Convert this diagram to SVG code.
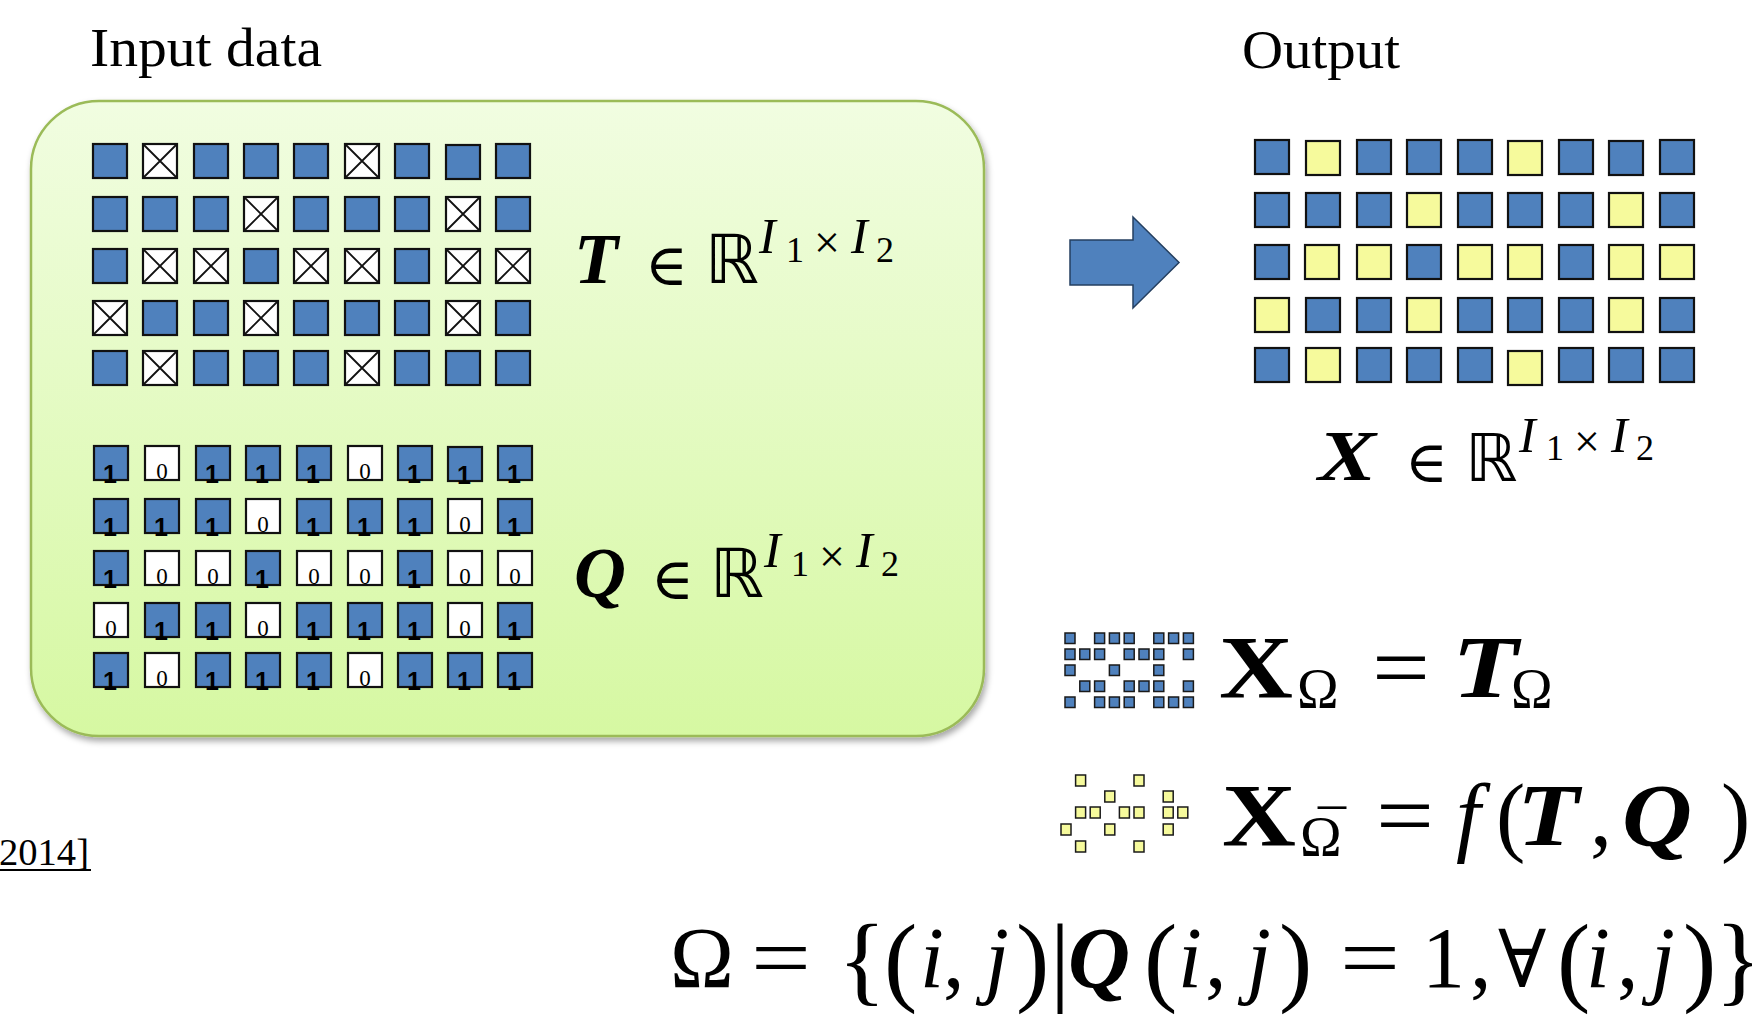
<svg xmlns="http://www.w3.org/2000/svg" width="1752" height="1028" viewBox="0 0 1752 1028">
<style>
.lbl{font-family:"Liberation Serif",serif;font-size:54px;fill:#000}
.m{font-family:"Liberation Serif",serif;fill:#000}
.bi{font-weight:700;font-style:italic}
.bf{font-weight:700}
.it{font-style:italic}
.rm{font-weight:400;font-style:normal}
.ds{font-family:"DejaVu Sans",sans-serif}
.dsf{font-family:"DejaVu Serif",serif}
.s72{font-size:72px}.s50{font-size:50px}.s36{font-size:36px}.s88{font-size:88px}.s56{font-size:56px}.s100{font-size:100px}.s86{font-size:86px}
.cb{fill:#4F81BD;stroke:#111;stroke-width:2.2}
.cw{fill:#fff;stroke:#111;stroke-width:2.2}
.cy{fill:#F6FA9C;stroke:#111;stroke-width:2.2}
.xl{stroke:#111;stroke-width:1.8;fill:none}
.one{font-family:"Liberation Sans",sans-serif;font-weight:700;font-size:25px;text-anchor:middle;fill:#000}
.zero{font-family:"Liberation Serif",serif;font-size:23px;text-anchor:middle;fill:#000}
.ib{fill:#4F81BD;stroke:#1a1a1a;stroke-width:1.5}
.iy{fill:#F6FA9C;stroke:#1a1a1a;stroke-width:1.5}
</style>
<defs>
<linearGradient id="gbox" x1="0" y1="0" x2="0" y2="1">
<stop offset="0" stop-color="#F1FDE1"/>
<stop offset="1" stop-color="#D6F8A2"/>
</linearGradient>
<filter id="sh" x="-5%" y="-5%" width="110%" height="112%">
<feDropShadow dx="2" dy="4" stdDeviation="3" flood-color="#000" flood-opacity="0.35"/>
</filter>
<rect id="B" x="1" y="1" width="34" height="34" class="cb"/>
<rect id="W" x="1" y="1" width="34" height="34" class="cw"/>
<rect id="Y" x="1" y="1" width="34" height="34" class="cy"/>
<g id="X"><rect x="1" y="1" width="34" height="34" class="cw"/><path d="M1.5 1.5L34.5 34.5M34.5 1.5L1.5 34.5" class="xl"/></g>
</defs>
<rect width="1752" height="1028" fill="#fff"/>

<g id="input-label"><text class="lbl" x="90" y="66" textLength="232" lengthAdjust="spacingAndGlyphs">Input data</text></g>
<g id="output-label"><text class="lbl" x="1242" y="68" textLength="158" lengthAdjust="spacingAndGlyphs">Output</text></g>

<g id="input-box">
<rect x="31" y="101" width="953" height="635" rx="68" fill="url(#gbox)" stroke="#9BBB59" stroke-width="2.5" filter="url(#sh)"/>
</g>

<g id="T-grid">
<use href="#B" x="92" y="143"/><use href="#X" x="142" y="143"/><use href="#B" x="193" y="143"/><use href="#B" x="243" y="143"/><use href="#B" x="293" y="143"/><use href="#X" x="344" y="143"/><use href="#B" x="394" y="143"/><use href="#B" x="445" y="144"/><use href="#B" x="495" y="143"/>
<use href="#B" x="92" y="196"/><use href="#B" x="142" y="196"/><use href="#B" x="193" y="196"/><use href="#X" x="243" y="196"/><use href="#B" x="293" y="196"/><use href="#B" x="344" y="196"/><use href="#B" x="394" y="196"/><use href="#X" x="445" y="196"/><use href="#B" x="495" y="196"/>
<use href="#B" x="92" y="248"/><use href="#X" x="142" y="248"/><use href="#X" x="193" y="248"/><use href="#B" x="243" y="248"/><use href="#X" x="293" y="248"/><use href="#X" x="344" y="248"/><use href="#B" x="394" y="248"/><use href="#X" x="445" y="248"/><use href="#X" x="495" y="248"/>
<use href="#X" x="92" y="300"/><use href="#B" x="142" y="300"/><use href="#B" x="193" y="300"/><use href="#X" x="243" y="300"/><use href="#B" x="293" y="300"/><use href="#B" x="344" y="300"/><use href="#B" x="394" y="300"/><use href="#X" x="445" y="300"/><use href="#B" x="495" y="300"/>
<use href="#B" x="92" y="350"/><use href="#X" x="142" y="350"/><use href="#B" x="193" y="350"/><use href="#B" x="243" y="350"/><use href="#B" x="293" y="350"/><use href="#X" x="344" y="350"/><use href="#B" x="394" y="350"/><use href="#B" x="445" y="350"/><use href="#B" x="495" y="350"/>
</g>

<g id="T-label">
<text class="m s72"><tspan class="bi" x="574" y="283">T</tspan><tspan class="dsf rm" font-size="58" x="645" y="285">∈</tspan><tspan class="ds rm" font-size="68" x="705" y="283">ℝ</tspan><tspan class="it s50" x="759" y="253">I</tspan><tspan class="rm s36" x="786" y="262">1</tspan><tspan class="rm" font-size="46" x="814" y="258">×</tspan><tspan class="it s50" x="851" y="253">I</tspan><tspan class="rm s36" x="876" y="262">2</tspan></text>
</g>

<g id="Q-grid">
<use href="#B" x="93" y="445"/><use href="#W" x="144" y="445"/><use href="#B" x="195" y="445"/><use href="#B" x="245" y="445"/><use href="#B" x="296" y="445"/><use href="#W" x="347" y="445"/><use href="#B" x="397" y="445"/><use href="#B" x="447" y="446"/><use href="#B" x="497" y="445"/>
<use href="#B" x="93" y="498"/><use href="#B" x="144" y="498"/><use href="#B" x="195" y="498"/><use href="#W" x="245" y="498"/><use href="#B" x="296" y="498"/><use href="#B" x="347" y="498"/><use href="#B" x="397" y="498"/><use href="#W" x="447" y="498"/><use href="#B" x="497" y="498"/>
<use href="#B" x="93" y="550"/><use href="#W" x="144" y="550"/><use href="#W" x="195" y="550"/><use href="#B" x="245" y="550"/><use href="#W" x="296" y="550"/><use href="#W" x="347" y="550"/><use href="#B" x="397" y="550"/><use href="#W" x="447" y="550"/><use href="#W" x="497" y="550"/>
<use href="#W" x="93" y="602"/><use href="#B" x="144" y="602"/><use href="#B" x="195" y="602"/><use href="#W" x="245" y="602"/><use href="#B" x="296" y="602"/><use href="#B" x="347" y="602"/><use href="#B" x="397" y="602"/><use href="#W" x="447" y="602"/><use href="#B" x="497" y="602"/>
<use href="#B" x="93" y="652"/><use href="#W" x="144" y="652"/><use href="#B" x="195" y="652"/><use href="#B" x="245" y="652"/><use href="#B" x="296" y="652"/><use href="#W" x="347" y="652"/><use href="#B" x="397" y="652"/><use href="#B" x="447" y="652"/><use href="#B" x="497" y="652"/>
<text class="one" x="110" y="483">1</text><text class="zero" x="162" y="479">0</text><text class="one" x="212" y="483">1</text><text class="one" x="262" y="483">1</text><text class="one" x="313" y="483">1</text><text class="zero" x="365" y="479">0</text><text class="one" x="414" y="483">1</text><text class="one" x="464" y="484">1</text><text class="one" x="514" y="483">1</text>
<text class="one" x="110" y="536">1</text><text class="one" x="161" y="536">1</text><text class="one" x="212" y="536">1</text><text class="zero" x="263" y="532">0</text><text class="one" x="313" y="536">1</text><text class="one" x="364" y="536">1</text><text class="one" x="414" y="536">1</text><text class="zero" x="465" y="532">0</text><text class="one" x="514" y="536">1</text>
<text class="one" x="110" y="588">1</text><text class="zero" x="162" y="584">0</text><text class="zero" x="213" y="584">0</text><text class="one" x="262" y="588">1</text><text class="zero" x="314" y="584">0</text><text class="zero" x="365" y="584">0</text><text class="one" x="414" y="588">1</text><text class="zero" x="465" y="584">0</text><text class="zero" x="515" y="584">0</text>
<text class="zero" x="111" y="636">0</text><text class="one" x="161" y="640">1</text><text class="one" x="212" y="640">1</text><text class="zero" x="263" y="636">0</text><text class="one" x="313" y="640">1</text><text class="one" x="364" y="640">1</text><text class="one" x="414" y="640">1</text><text class="zero" x="465" y="636">0</text><text class="one" x="514" y="640">1</text>
<text class="one" x="110" y="690">1</text><text class="zero" x="162" y="686">0</text><text class="one" x="212" y="690">1</text><text class="one" x="262" y="690">1</text><text class="one" x="313" y="690">1</text><text class="zero" x="365" y="686">0</text><text class="one" x="414" y="690">1</text><text class="one" x="464" y="690">1</text><text class="one" x="514" y="690">1</text>
</g>

<g id="Q-label">
<text class="m s72"><tspan class="bi" x="574" y="597">Q</tspan><tspan class="dsf rm" font-size="58" x="651" y="599">∈</tspan><tspan class="ds rm" font-size="68" x="710" y="597">ℝ</tspan><tspan class="it s50" x="764" y="567">I</tspan><tspan class="rm s36" x="791" y="576">1</tspan><tspan class="rm" font-size="46" x="819" y="572">×</tspan><tspan class="it s50" x="856" y="567">I</tspan><tspan class="rm s36" x="881" y="576">2</tspan></text>
</g>

<g id="connectors">
<polygon points="1070,240 1133,240 1133,217 1179,262.5 1133,308 1133,285 1070,285" fill="#4F81BD" stroke="#243F60" stroke-width="1.5"/>
</g>

<g id="output-grid">
<use href="#B" x="1254" y="139"/><use href="#Y" x="1305" y="140"/><use href="#B" x="1356" y="139"/><use href="#B" x="1406" y="139"/><use href="#B" x="1457" y="139"/><use href="#Y" x="1507" y="140"/><use href="#B" x="1558" y="139"/><use href="#B" x="1608" y="140"/><use href="#B" x="1659" y="139"/>
<use href="#B" x="1254" y="192"/><use href="#B" x="1305" y="192"/><use href="#B" x="1356" y="192"/><use href="#Y" x="1406" y="192"/><use href="#B" x="1457" y="192"/><use href="#B" x="1507" y="192"/><use href="#B" x="1558" y="192"/><use href="#Y" x="1608" y="192"/><use href="#B" x="1659" y="192"/>
<use href="#B" x="1254" y="244"/><use href="#Y" x="1304" y="244"/><use href="#Y" x="1356" y="244"/><use href="#B" x="1406" y="244"/><use href="#Y" x="1457" y="244"/><use href="#Y" x="1507" y="244"/><use href="#B" x="1558" y="244"/><use href="#Y" x="1608" y="244"/><use href="#Y" x="1659" y="244"/>
<use href="#Y" x="1254" y="297"/><use href="#B" x="1305" y="297"/><use href="#B" x="1356" y="297"/><use href="#Y" x="1406" y="297"/><use href="#B" x="1457" y="297"/><use href="#B" x="1507" y="297"/><use href="#B" x="1558" y="297"/><use href="#Y" x="1608" y="297"/><use href="#B" x="1659" y="297"/>
<use href="#B" x="1254" y="347"/><use href="#Y" x="1305" y="347"/><use href="#B" x="1356" y="347"/><use href="#B" x="1406" y="347"/><use href="#B" x="1457" y="347"/><use href="#Y" x="1507" y="350"/><use href="#B" x="1558" y="347"/><use href="#B" x="1608" y="347"/><use href="#B" x="1659" y="347"/>
</g>

<g id="X-label">
<text class="m s72"><tspan class="bi" x="1318" y="480" textLength="58" lengthAdjust="spacingAndGlyphs">X</tspan><tspan class="dsf rm" font-size="58" x="1405" y="482">∈</tspan><tspan class="ds rm" font-size="66" x="1465" y="481">ℝ</tspan><tspan class="it s50" x="1519" y="452">I</tspan><tspan class="rm s36" x="1546" y="460">1</tspan><tspan class="rm" font-size="46" x="1574" y="457">×</tspan><tspan class="it s50" x="1611" y="452">I</tspan><tspan class="rm s36" x="1636" y="460">2</tspan></text>
</g>

<g id="observed-icon">
<rect class="ib" x="1065" y="633" width="10" height="10.5"/><rect class="ib" x="1094.6" y="633" width="10" height="10.5"/><rect class="ib" x="1109.4" y="633" width="10" height="10.5"/><rect class="ib" x="1124.2" y="633" width="10" height="10.5"/><rect class="ib" x="1153.8" y="633" width="10" height="10.5"/><rect class="ib" x="1168.6" y="633" width="10" height="10.5"/><rect class="ib" x="1183.4" y="633" width="10" height="10.5"/>
<rect class="ib" x="1065" y="649" width="10" height="10.5"/><rect class="ib" x="1079.8" y="649" width="10" height="10.5"/><rect class="ib" x="1094.6" y="649" width="10" height="10.5"/><rect class="ib" x="1124.2" y="649" width="10" height="10.5"/><rect class="ib" x="1139" y="649" width="10" height="10.5"/><rect class="ib" x="1153.8" y="649" width="10" height="10.5"/><rect class="ib" x="1183.4" y="649" width="10" height="10.5"/>
<rect class="ib" x="1065" y="665" width="10" height="10.5"/><rect class="ib" x="1109.4" y="665" width="10" height="10.5"/><rect class="ib" x="1153.8" y="665" width="10" height="10.5"/>
<rect class="ib" x="1079.8" y="681" width="10" height="10.5"/><rect class="ib" x="1094.6" y="681" width="10" height="10.5"/><rect class="ib" x="1124.2" y="681" width="10" height="10.5"/><rect class="ib" x="1139" y="681" width="10" height="10.5"/><rect class="ib" x="1153.8" y="681" width="10" height="10.5"/><rect class="ib" x="1183.4" y="681" width="10" height="10.5"/>
<rect class="ib" x="1065" y="697" width="10" height="10.5"/><rect class="ib" x="1094.6" y="697" width="10" height="10.5"/><rect class="ib" x="1109.4" y="697" width="10" height="10.5"/><rect class="ib" x="1124.2" y="697" width="10" height="10.5"/><rect class="ib" x="1153.8" y="697" width="10" height="10.5"/><rect class="ib" x="1168.6" y="697" width="10" height="10.5"/><rect class="ib" x="1183.4" y="697" width="10" height="10.5"/>
</g>

<g id="eq-observed">
<text class="m s88"><tspan class="bf" x="1219" y="697" textLength="74" lengthAdjust="spacingAndGlyphs">X</tspan><tspan class="s56" x="1297" y="708">Ω</tspan><tspan x="1372" y="697" textLength="58" lengthAdjust="spacingAndGlyphs">=</tspan><tspan class="bi" x="1452" y="697" textLength="66" lengthAdjust="spacingAndGlyphs">T</tspan><tspan class="s56" x="1511" y="708">Ω</tspan></text>
</g>

<g id="missing-icon">
<rect class="iy" x="1075.6" y="775" width="10" height="11"/><rect class="iy" x="1134" y="775" width="10" height="11"/>
<rect class="iy" x="1104.8" y="791" width="10" height="11"/><rect class="iy" x="1163.2" y="791" width="10" height="11"/>
<rect class="iy" x="1075.6" y="807" width="10" height="11"/><rect class="iy" x="1090.2" y="807" width="10" height="11"/><rect class="iy" x="1119.4" y="807" width="10" height="11"/><rect class="iy" x="1134" y="807" width="10" height="11"/><rect class="iy" x="1163.2" y="807" width="10" height="11"/><rect class="iy" x="1177.8" y="807" width="10" height="11"/>
<rect class="iy" x="1061" y="824" width="10" height="11"/><rect class="iy" x="1104.8" y="824" width="10" height="11"/><rect class="iy" x="1163.2" y="824" width="10" height="11"/>
<rect class="iy" x="1075.6" y="841" width="10" height="11"/><rect class="iy" x="1134" y="841" width="10" height="11"/>
</g>

<g id="eq-missing">
<text class="m s88"><tspan class="bf" x="1222" y="845" textLength="74" lengthAdjust="spacingAndGlyphs">X</tspan><tspan class="s56" x="1300" y="856">Ω</tspan><tspan class="s56" x="1318" y="850">¯</tspan><tspan x="1376" y="845" textLength="58" lengthAdjust="spacingAndGlyphs">=</tspan><tspan class="it" x="1456" y="845">f</tspan><tspan x="1496" y="845">(</tspan><tspan class="bi" x="1517" y="845" textLength="62" lengthAdjust="spacingAndGlyphs">T</tspan><tspan x="1590" y="845">,</tspan><tspan class="bi" x="1622" y="845" textLength="70" lengthAdjust="spacingAndGlyphs">Q</tspan><tspan x="1721" y="845">)</tspan></text>
</g>

<g id="eq-omega">
<text class="m s86"><tspan x="670" y="987">Ω</tspan><tspan x="751" y="987" textLength="60" lengthAdjust="spacingAndGlyphs">=</tspan><tspan class="s100" x="838" y="993">{</tspan><tspan class="s100" x="884" y="993">(</tspan><tspan class="it" x="920" y="987">i</tspan><tspan x="943" y="987">,</tspan><tspan class="it" x="985" y="987">j</tspan><tspan class="s100" x="1016" y="993">)</tspan><tspan class="s100" x="1050" y="993">|</tspan><tspan class="bi" x="1068" y="987">Q</tspan><tspan class="s100" x="1144" y="993">(</tspan><tspan class="it" x="1178" y="987">i</tspan><tspan x="1205" y="987">,</tspan><tspan class="it" x="1247" y="987">j</tspan><tspan class="s100" x="1279" y="993">)</tspan><tspan x="1340" y="987" textLength="60" lengthAdjust="spacingAndGlyphs">=</tspan><tspan x="1422" y="987">1</tspan><tspan x="1470" y="987">,</tspan><tspan class="dsf" font-size="80" x="1498" y="987">∀</tspan><tspan class="s100" x="1557" y="993">(</tspan><tspan class="it" x="1586" y="987">i</tspan><tspan x="1617" y="987">,</tspan><tspan class="it" x="1651" y="987">j</tspan><tspan class="s100" x="1683" y="993">)</tspan><tspan class="s100" x="1715" y="993">}</tspan></text>
</g>

<g id="citation">
<text class="m" font-size="38.6" x="-1" y="865">2014]</text>
<line x1="0" y1="870" x2="91" y2="870" stroke="#000" stroke-width="2.2"/>
</g>
</svg>
